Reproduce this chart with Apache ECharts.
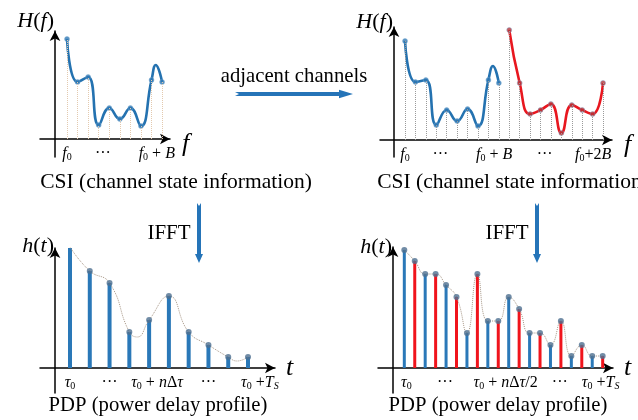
<!DOCTYPE html>
<html><head><meta charset="utf-8">
<script src="https://cdn.jsdelivr.net/npm/echarts@6/dist/echarts.min.js"></script>
<style>html,body{margin:0;padding:0;background:#fff}#c{width:638px;height:420px}</style>
</head><body><div id="c"></div>
<script>
// ---------------- data ----------------
// Top-left CSI (one channel)
const csiIdxA = [1,2,3,4,5,6,7,8,9,10];
const csiValA = [100,57,62,14,31,20,31,13,59,57];
const csiPeakA = [[9.4,74]];            // curve overshoot between samples
// Top-right CSI (two adjacent channels)
const csiIdxB1 = [1,2,3,4,5,6,7,8,9,10];
const csiValB1 = [99,58,60,15,30,19,31,14,60,57];
const csiPeakB1 = [[9.43,74]];
const csiIdxB2 = [11,12,13,14,15,16,17,18,19,20];
const csiValB2 = [110,57,26,30,36,7,35,30,26,57];
// Bottom-left PDP
const pdpIdxC = [1,2,3,4,5,6,7,8,9,10];
const pdpValC = [121,97,85,36,48,72,36,23,11,11];
const pdpDipC = [[4.4,31],[9.45,7]];
// Bottom-right PDP (interleaved channels)
const pdpIdxD1 = [1,3,5,7,9,11,13,15,17,19];
const pdpValD1 = [118,94,83,35,47,71,35,23,12,12];
const pdpIdxD2 = [2,4,6,8,10,12,14,16,18,20];
const pdpValD2 = [107,94,71,94,47,59,35,47,23,12];
// tick labels
const tickPosA = [1,4.4,9.5];
const tickTxtA = ['{i|f}{s|0}','{n|···}','{i|f}{s|0}{n| + }{i|B}'];
const tickPosB = [1,4.4,9.55,14.4,19.05];
const tickTxtB = ['{i|f}{s|0}','{n|···}','{i|f}{s|0}{n| + }{i|B}','{n|···}','{i|f}{s|0}{n|+2}{i|B}'];
const tickPosC = [1,3,5.4,8,10.6];
const tickTxtC = ['{i|τ}{s|0}','{n|···}','{i|τ}{s|0}{n| + }{i|n}{n|Δ}{i|τ}','{n|···}','{i|τ}{s|0}{n| +}{i|T}{si|S}'];
const tickPosD = [1.2,4.9,10.7,15.9,19.8];
const tickTxtD = ['{i|τ}{s|0}','{n|···}','{i|τ}{s|0}{n| + }{i|n}{n|Δ}{i|τ}{n|/2}','{n|···}','{i|τ}{s|0}{n| +}{i|T}{si|S}'];

// ---------------- styling ----------------
const SERIF = "'Liberation Serif','Times New Roman',serif";
const BLUE = '#2472b0', RED = '#e8171f';
const tickRich = {
  i:{fontFamily:SERIF,fontStyle:'italic',fontSize:16,color:'#000',lineHeight:17},
  n:{fontFamily:SERIF,fontSize:16,color:'#000',lineHeight:17},
  s:{fontFamily:SERIF,fontSize:10,color:'#000',verticalAlign:'bottom',lineHeight:10},
  si:{fontFamily:SERIF,fontStyle:'italic',fontSize:10,color:'#000',verticalAlign:'bottom',lineHeight:10}
};
const nameRich = {
  i:{fontFamily:SERIF,fontStyle:'italic',fontSize:22,color:'#000'},
  n:{fontFamily:SERIF,fontSize:22,color:'#000'}
};
const grids = [
  {left:40,top:31,width:130,height:126},
  {left:380,top:27,width:232,height:130},
  {left:40,top:248,width:235,height:145},
  {left:378,top:247,width:235,height:146}
];
const ranges = [
  {x:[-1.557,10.75], y:[-18,108], yOff:-15, xOff:-18, yGap:10},
  {x:[-1.4,20.86], y:[-17,113], yOff:-14, xOff:-17, yGap:5},
  {x:[-0.517,11.365], y:[-25,120], yOff:-15, xOff:-25, yGap:2},
  {x:[-1.52,20.99], y:[-25,121], yOff:-15, xOff:-25, yGap:0}
];
const xNames = ['{i|f}','{i|f}','{i|t}','{i|t}'];
const yNames = ['{i|H}{n|(}{i|f}{n|)}','{i|H}{n|(}{i|f}{n|)}','{i|h}{n|(}{i|t}{n|)}','{i|h}{n|(}{i|t}{n|)}'];
const tickPos = [tickPosA,tickPosB,tickPosC,tickPosD];
const tickTxt = [tickTxtA,tickTxtB,tickTxtC,tickTxtD];
const xNamePad = [[10,0,0,0],[10,0,0,0],[0,0,0,0],[0,0,0,0]];

const axisLine = {onZero:false, symbol:['none','arrow'], symbolSize:[8,10], lineStyle:{color:'#000',width:1.5}};
const xAxes = grids.map((g,i)=>({
  gridIndex:i, type:'value', min:ranges[i].x[0], max:ranges[i].x[1],
  position:'bottom', offset:ranges[i].xOff,
  splitLine:{show:false}, axisTick:{show:false}, axisLine:axisLine,
  axisLabel:{customValues:tickPos[i], margin:6, rich:tickRich,
    formatter:(v)=>{const k=tickPos[i].indexOf(v); return k>=0?tickTxt[i][k]:'';}},
  name:xNames[i], nameLocation:'end', nameGap:i<2?12:11,
  nameTextStyle:{rich:{i:{fontFamily:SERIF,fontStyle:'italic',fontSize:26,color:'#000'}}, verticalAlign:'middle', padding:xNamePad[i]}
}));
const yAxes = grids.map((g,i)=>({
  gridIndex:i, type:'value', min:ranges[i].y[0], max:ranges[i].y[1],
  position:'left', offset:ranges[i].yOff,
  splitLine:{show:false}, axisTick:{show:false}, axisLabel:{show:false},
  axisLine:axisLine,
  name:yNames[i], nameLocation:'end', nameGap:ranges[i].yGap,
  nameTextStyle:{rich:nameRich, align:'right', verticalAlign:'middle', padding:[0,1,0,0]}
}));

function pts(xs,ys){return xs.map((x,k)=>[x,ys[k]]);}
function curve(xs,ys,extra){return pts(xs,ys).concat(extra||[]).sort((a,b)=>a[0]-b[0]);}
function drops(xs,ys){return xs.map((x,k)=>[{coord:[x,0]},{coord:[x,ys[k]]}]);}
function dropSeries(gi,xs,ys,color){
  return {type:'scatter',xAxisIndex:gi,yAxisIndex:gi,data:pts(xs,ys),symbolSize:0,z:1,silent:true,
    markLine:{silent:true,symbol:['none','none'],label:{show:false},animation:false,
      lineStyle:{type:'dotted',color:color,width:1},data:drops(xs,ys)}};
}
function curveSeries(gi,data,color){
  return {type:'line',xAxisIndex:gi,yAxisIndex:gi,data:data,smooth:0.5,showSymbol:false,z:2,
    lineStyle:{color:color,width:2.6}};
}
function markerSeries(gi,xs,ys,color){
  return {type:'scatter',xAxisIndex:gi,yAxisIndex:gi,data:pts(xs,ys),symbolSize:5,z:3,
    itemStyle:{color:color,borderColor:'rgba(120,170,210,0.5)',borderWidth:1}};
}
function stemSeries(gi,xs,ys,color,w){
  return {type:'bar',xAxisIndex:gi,yAxisIndex:gi,data:pts(xs,ys),barWidth:w,barGap:'-100%',z:2,
    itemStyle:{color:color}};
}
function topSeries(gi,xs,ys){
  return {type:'scatter',xAxisIndex:gi,yAxisIndex:gi,data:pts(xs,ys),symbolSize:6,z:4,
    itemStyle:{color:'#4d6f90'}};
}
function envSeries(gi,data){
  return {type:'line',xAxisIndex:gi,yAxisIndex:gi,data:data,smooth:0.5,showSymbol:false,z:3,
    lineStyle:{color:'#a89888',width:1,type:'dotted'}};
}

const series = [
  dropSeries(0,csiIdxA,csiValA,'#e3c9ae'),
  curveSeries(0,curve(csiIdxA,csiValA,csiPeakA),BLUE),
  markerSeries(0,csiIdxA,csiValA,'#2f78b4'),

  dropSeries(1,csiIdxB1,csiValB1,'#9a9a9a'),
  dropSeries(1,csiIdxB2,csiValB2,'#9a9a9a'),
  curveSeries(1,curve(csiIdxB1,csiValB1,csiPeakB1),BLUE),
  curveSeries(1,curve(csiIdxB2,csiValB2,[]),RED),
  markerSeries(1,csiIdxB1,csiValB1,'#2f78b4'),
  markerSeries(1,csiIdxB2,csiValB2,'#b5343a'),

  envSeries(2,curve(pdpIdxC,pdpValC,pdpDipC)),
  stemSeries(2,pdpIdxC,pdpValC,'#2a78b8',4),
  topSeries(2,pdpIdxC,pdpValC),

  envSeries(3,curve(pdpIdxD1.concat(pdpIdxD2),pdpValD1.concat(pdpValD2),[])),
  stemSeries(3,pdpIdxD1,pdpValD1,'#2a78b8',3),
  stemSeries(3,pdpIdxD2,pdpValD2,'#f0141c',3),
  topSeries(3,pdpIdxD1,pdpValD1),
  topSeries(3,pdpIdxD2,pdpValD2)
];

function txt(x,y,s,size){
  return {type:'text',x:x,y:y,style:{text:s,font:size+"px 'Liberation Serif', serif",fill:'#000',align:'center',verticalAlign:'middle'}};
}
function hArrow(x0,x1,y,color){
  return {type:'polygon',shape:{points:[[x0,y-2],[x1-14,y-2],[x1-14,y-4.2],[x1,y],[x1-14,y+4.2],[x1-14,y+2],[x0,y+2],[x0+4,y]]},style:{fill:color}};
}
function vArrow(x,y0,y1,color){
  return {type:'polygon',shape:{points:[[x-2,y0],[x,y0+3],[x+2,y0],[x+2,y1-9],[x+4,y1-9],[x,y1],[x-4,y1-9],[x-2,y1-9]]},style:{fill:color}};
}
const graphics = [
  txt(176,182,'CSI (channel state information)',21.5),
  txt(513,182,'CSI (channel state information)',21.5),
  txt(158,406,'PDP (power delay profile)',20.7),
  txt(498,406,'PDP (power delay profile)',20.7),
  txt(294,77,'adjacent channels',20.7),
  txt(169,233,'IFFT',21),
  txt(507,233,'IFFT',21),
  hArrow(235,353,94,'#2574b8'),
  vArrow(199,203,263,'#2574b8'),
  vArrow(537,203,263,'#2574b8')
];

const chart = echarts.init(document.getElementById('c'),null,{renderer:'canvas'});
chart.setOption({
  animation:false,
  backgroundColor:'#fff',
  grid:grids.map(g=>Object.assign({containLabel:false,outerBoundsMode:'none'},g)),
  xAxis:xAxes, yAxis:yAxes, series:series, graphic:graphics
});
</script></body></html>
